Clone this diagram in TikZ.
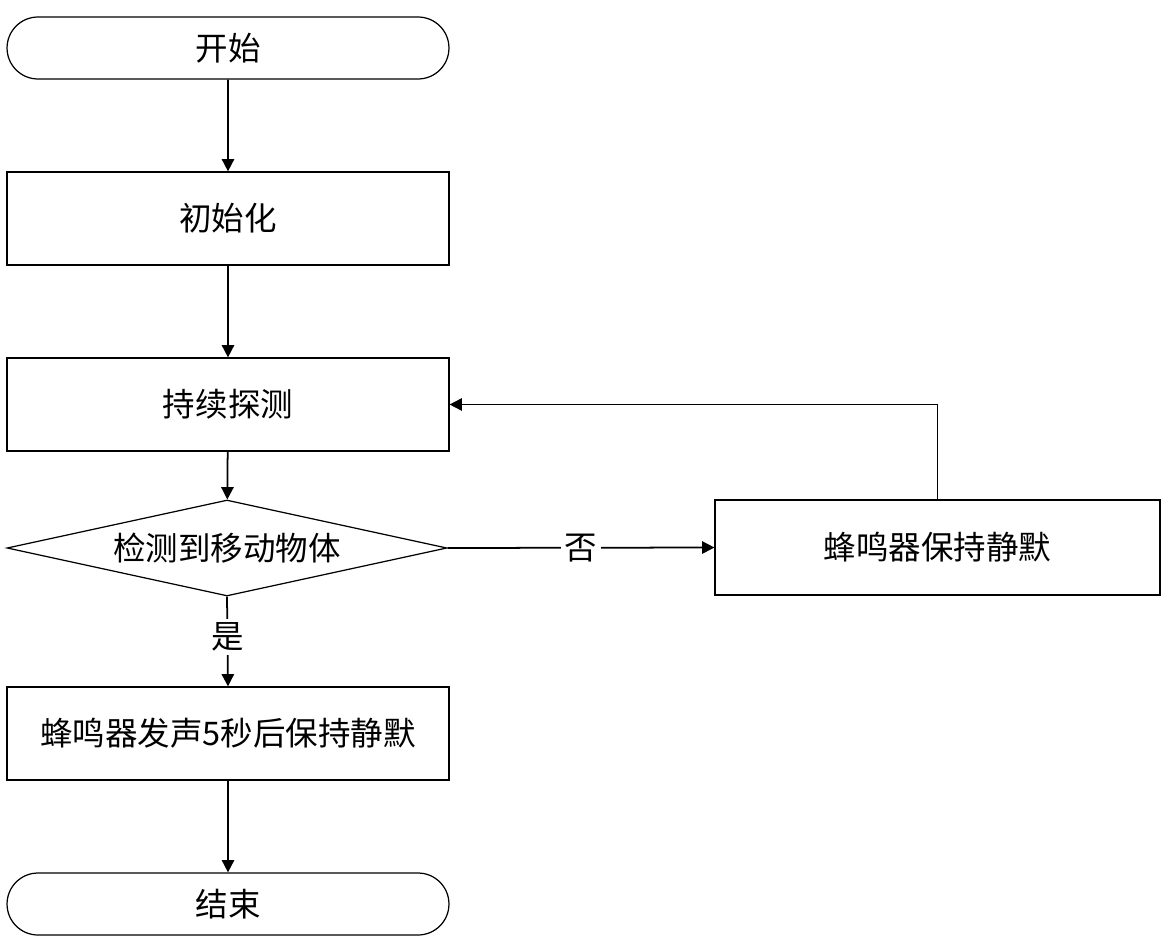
\documentclass[tikz,border=0pt]{standalone}
\usepackage{fontspec}
\newfontfamily\cjk{Noto Sans CJK SC}
\usetikzlibrary{shapes.geometric,shapes.misc,arrows.meta}
\begin{document}
\begin{tikzpicture}[x=0.02cm,y=-0.02cm,
  every node/.style={font=\cjk\fontsize{18.5}{22}\selectfont},
  term/.style={draw,line width=0.7pt,rounded rectangle,minimum width=8.84cm,minimum height=1.24cm,inner sep=0},
  proc/.style={draw,line width=0.7pt,rectangle,minimum width=8.84cm,minimum height=1.86cm,inner sep=0},
  dec/.style={draw,line width=0.7pt,diamond,aspect=4.6,minimum width=8.8cm,minimum height=1.92cm,inner sep=0},
  arr/.style={draw,line width=1pt,-{Triangle[length=7pt,width=7pt]}},
  lbl/.style={fill=white,inner sep=2pt}]
\useasboundingbox (0,0) rectangle (1168,939);
\node[term] (start) at (228,48) {开始};
\node[proc] (init) at (228,218.5) {初始化};
\node[proc] (detect) at (228,404.5) {持续探测};
\node[dec] (dec) at (227,548) {检测到移动物体};
\node[proc,minimum width=8.9cm,minimum height=1.9cm] (quiet) at (937.5,547.5) {蜂鸣器保持静默};
\node[proc] (buzz) at (228,733.5) {蜂鸣器发声5秒后保持静默};
\node[term] (end) at (228,904) {结束};
\draw[arr] (start) -- (init);
\draw[arr] (init) -- (detect);
\draw[arr] (detect) -- (dec);
\draw[arr] (dec.east) -- node[lbl]{否} (quiet.west);
\draw[arr] (dec.south) -- node[lbl,pos=0.45]{是} (buzz.north);
\draw[arr] (quiet.north) |- (detect.east);
\draw[arr] (buzz) -- (end);
\end{tikzpicture}
\end{document}
